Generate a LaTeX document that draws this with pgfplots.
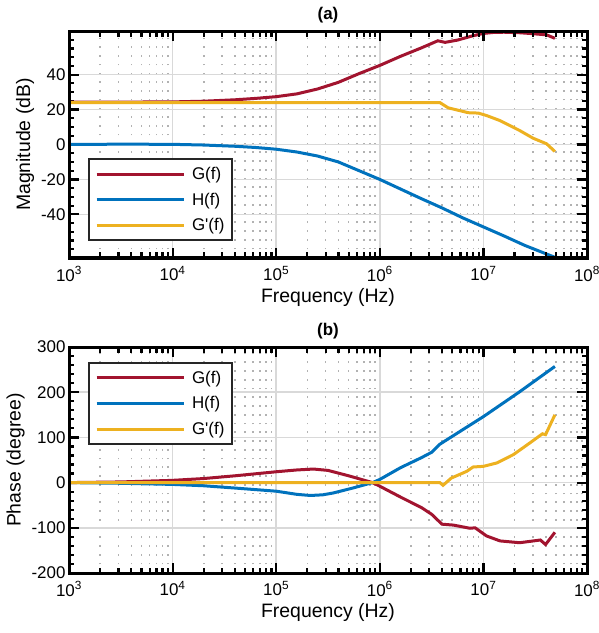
\documentclass[border=0pt]{standalone}
\usepackage{fontspec}
\setmainfont{Liberation Sans}
\usepackage{pgfplots}
\pgfplotsset{compat=1.18}
\definecolor{cG}{RGB}{162,20,47}
\definecolor{cH}{RGB}{0,114,189}
\definecolor{cGp}{RGB}{237,177,32}

\pgfplotsset{
  bodeframe/.style={
    scale only axis, width=518bp,
    xmin=1e3, xmax=1e8,
    xtick={1e3,1e4,1e5,1e6,1e7,1e8},
    axis line style={line width=3bp},
    major tick style={line width=2.2bp, black},
    minor tick style={line width=2.2bp, black},
    major tick length=10bp, minor tick length=5.5bp,
    tick align=inside,
  },
  bode/.style={
    bodeframe,
    xticklabels={10\textsuperscript{3},10\textsuperscript{4},10\textsuperscript{5},
      10\textsuperscript{6},10\textsuperscript{7},10\textsuperscript{8}},
    xtick pos=left, ytick pos=both,
    xmajorgrids, xminorgrids, ymajorgrids,
    major grid style={line width=1.5bp, black!15},
    minor grid style={line width=1.6bp, black!30, dash pattern=on 1.6bp off 7.15bp},
    tick label style={font=\fontsize{17}{19}\selectfont},
    xticklabel shift=5bp,
    label style={font=\fontsize{19.5}{22}\selectfont},
    title style={font=\bfseries\fontsize{17}{19}\selectfont, yshift=-2bp},
    xlabel={Frequency (Hz)},
    legend style={draw=black!85, line width=2bp, inner xsep=6bp, inner ysep=6bp,
      font=\fontsize{17}{19}\selectfont, row sep=8bp, anchor=north west},
    legend cell align=left,
    every axis plot/.append style={line width=3bp},
  },
  bodetop/.style={
    bodeframe,
    xticklabels={}, ytick=\empty, xtick pos=both,
  },
  bodelegend/.style={
    legend image code/.code={\draw[##1, line width=3bp] (0bp,0bp) -- (87bp,0bp);
      \path (92bp,0bp);},
  },
}

\begin{document}
\begin{tikzpicture}
\useasboundingbox (-69bp,-375bp) rectangle (530bp,258bp);

% (a) magnitude
\begin{semilogxaxis}[bode, bodelegend, height=227bp,
  at={(0,0)}, anchor=south west,
  ymin=-65, ymax=65,
  ytick={-40,-20,0,20,40}, yticklabels={-40,-20,0,20,40},
  minor ytick={-60,-55,...,60},
  ylabel={Magnitude (dB)},
  title={(a)},
  legend style={at={(0.0367,0.44)}},
]
\addplot[cG] coordinates {
 (1e3,24.2) (1e4,24.4) (2.0e4,24.8) (3.98e4,25.6) (6.31e4,26.4) (1e5,27.4)
 (1.585e5,29.0) (2.512e5,31.8) (3.981e5,35.6) (6.31e5,40.6) (1e6,45.3)
 (1.585e6,50.5) (2.512e6,55.3) (3.631e6,59.4) (4.266e6,58.5) (5.623e6,59.8)
 (6.918e6,61.3) (7.943e6,62.3) (1e7,63.6) (1.259e7,64.2) (1.585e7,64.3)
 (2.239e7,64.0) (2.818e7,63.6) (4.074e7,62.8) (4.898e7,60.8)
};
\addlegendentry{G(f)}
\addplot[cH] coordinates {
 (1e3,0) (3.162e3,0.2) (1e4,0.1) (2.0e4,-0.3) (3.98e4,-1.0) (6.31e4,-1.7)
 (1e5,-2.7) (1.585e5,-4.3) (2.512e5,-6.6) (3.981e5,-10.0) (6.31e5,-15.0)
 (1e6,-20.0) (1.585e6,-25.5) (2.512e6,-31.0) (3.981e6,-36.3) (6.31e6,-42.0)
 (1e7,-47.2) (1.585e7,-52.4) (2.512e7,-57.8) (3.981e7,-62.5) (4.898e7,-64.6)
};
\addlegendentry{H(f)}
\addplot[cGp] coordinates {
 (1e3,24.0) (3.802e6,24.0) (4.571e6,21.0) (7.161e6,18.2) (8.913e6,18.0)
 (1.072e7,16.6) (1.445e7,13.7) (2.239e7,8.0) (3.020e7,3.6) (4.074e7,0.4)
 (4.898e7,-4.0)
};
\addlegendentry{G\textquotesingle(f)}
\end{semilogxaxis}
\begin{semilogxaxis}[bodetop, height=227bp, at={(0,0)}, anchor=south west,
  ymin=-65, ymax=65]
\end{semilogxaxis}

% (b) phase
\begin{semilogxaxis}[bode, bodelegend, height=226bp,
  at={(0,-315bp)}, anchor=south west,
  ymin=-200, ymax=300,
  ytick={-200,-100,0,100,200,300}, yticklabels={-200,-100,0,100,200,300},
  minor ytick={-180,-160,...,280},
  ylabel={Phase (degree)},
  title={(b)},
  legend style={at={(0.0367,0.934)}},
]
\addplot[cG] coordinates {
 (1e3,0) (3.162e3,1.5) (1e4,5) (2.0e4,9) (3.98e4,15) (1e5,24) (1.585e5,28)
 (2.291e5,30) (3.162e5,27) (5.012e5,15) (8.511e5,0) (1e6,-8) (1.585e6,-32)
 (2.512e6,-55) (3.162e6,-70) (3.981e6,-92) (5.129e6,-94) (7.413e6,-101)
 (8.318e6,-100) (1.072e7,-118) (1.445e7,-129) (2.239e7,-133) (3.548e7,-127)
 (3.981e7,-137) (4.898e7,-110)
};
\addlegendentry{G(f)}
\addplot[cH] coordinates {
 (1e3,0) (3.162e3,-1.5) (1e4,-4) (2.0e4,-7) (3.98e4,-12) (1e5,-19)
 (1.585e5,-26) (2.138e5,-28.5) (2.818e5,-27) (3.548e5,-23) (5.495e5,-12)
 (8.511e5,0) (1e6,7) (1.585e6,33) (2.512e6,55) (3.162e6,67) (3.802e6,85)
 (6.31e6,117) (1e7,146) (2.239e7,201) (4.898e7,257)
};
\addlegendentry{H(f)}
\addplot[cGp] coordinates {
 (1e3,0) (3.802e6,0) (4.074e6,-6) (4.898e6,10) (6.918e6,25) (7.943e6,34.5)
 (1e7,36) (1.349e7,43.5) (1.950e7,62) (2.818e7,88) (3.715e7,108) (3.981e7,106)
 (4.898e7,150)
};
\addlegendentry{G\textquotesingle(f)}
\end{semilogxaxis}
\begin{semilogxaxis}[bodetop, height=226bp, at={(0,-315bp)}, anchor=south west,
  ymin=-200, ymax=300]
\end{semilogxaxis}
\end{tikzpicture}
\end{document}
